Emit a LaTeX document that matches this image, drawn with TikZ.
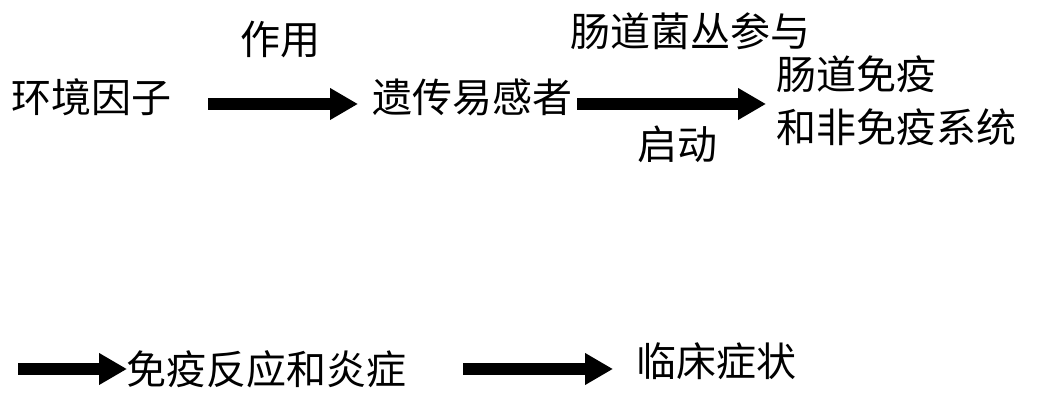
\documentclass[tikz,border=0pt]{standalone}
\usepackage{fontspec}
\setmainfont{Noto Sans CJK SC}
\usetikzlibrary{arrows.meta}
\begin{document}
\begin{tikzpicture}[x=0.75pt,y=-0.75pt,
  lbl/.style={inner sep=0pt,anchor=base,font=\fontsize{30pt}{36pt}\selectfont},
  bigarrow/.style={line width=9pt,-{Triangle[length=21pt,width=22.5pt]}}]
\useasboundingbox (0,0) rectangle (1064,402);
\node[lbl] (env) at (92,113) {环境因子};
\node[lbl] (act) at (280,55) {作用};
\node[lbl] (gen) at (472,113) {遗传易感者};
\node[lbl] (flora) at (690,47) {肠道菌丛参与};
\node[lbl] (start) at (677,160) {启动};
\node[lbl,anchor=base west] (imm1) at (776,90) {肠道免疫};
\node[lbl,anchor=base west] (imm2) at (776,143) {和非免疫系统};
\node[lbl] (resp) at (266,385) {免疫反应和炎症};
\node[lbl] (clin) at (716,377) {临床症状};
\coordinate (a1s) at (208,104);
\coordinate (a1e) at (358,104);
\coordinate (a2s) at (577,104);
\coordinate (a2e) at (766,104);
\coordinate (a3s) at (18,369);
\coordinate (a3e) at (127,369);
\coordinate (a4s) at (463,369);
\coordinate (a4e) at (613,369);
\draw[bigarrow] (a1s) -- (a1e);
\draw[bigarrow] (a2s) -- (a2e);
\draw[bigarrow] (a3s) -- (a3e);
\draw[bigarrow] (a4s) -- (a4e);
\end{tikzpicture}
\end{document}
